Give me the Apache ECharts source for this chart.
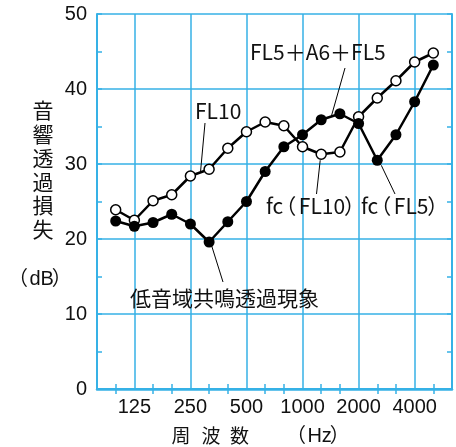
<!DOCTYPE html>
<html>
<head>
<meta charset="utf-8">
<script src="https://cdn.jsdelivr.net/npm/echarts@6/dist/echarts.min.js"></script>
<style>
  html, body { margin: 0; padding: 0; background: #fff; }
  #chart { width: 456px; height: 447px; }
</style>
</head>
<body>
<div id="chart"></div>
<script>
// One-third octave band centres (Hz); first and last only pad the frame
const bands = ['80', '100', '125', '160', '200', '250', '315', '400', '500', '630',
               '800', '1000', '1250', '1600', '2000', '2500', '3150', '4000', '5000', '6300'];
// Octave bands that carry a label and a vertical grid line
const tickLabels = ['125', '250', '500', '1000', '2000', '4000'];
// Sound transmission loss (dB), FL10 single glazing
const fl10 = [null, 23.9, 22.5, 25.1, 25.9, 28.4, 29.3, 32.1, 34.3, 35.6,
              35.1, 32.3, 31.3, 31.6, 36.3, 38.8, 41.1, 43.6, 44.8, null];
// Sound transmission loss (dB), FL5 + A6 + FL5 double glazing
const fl5a6 = [null, 22.4, 21.7, 22.2, 23.3, 22.0, 19.6, 22.3, 25.0, 29.0,
               32.3, 33.9, 35.9, 36.7, 35.4, 30.5, 33.9, 38.3, 43.2, null];
// Y axis range and step
const yMin = 0, yMax = 50, yStep = 10;

const CYAN = '#36b1e6';
const FONT_LATIN = '"Liberation Sans", "Noto Sans CJK JP", sans-serif';
const FONT_JP = '"Noto Sans CJK JP", sans-serif';
const INK = '#111';

const isMajor = (i) => tickLabels.indexOf(bands[i]) >= 0;
const isMinor = (i) => !isMajor(i) && i > 0 && i < bands.length - 1;

const chart = echarts.init(document.getElementById('chart'), null, { renderer: 'canvas' });

const baseX = {
  type: 'category',
  data: bands,
  boundaryGap: false,
  axisLine: { show: true, lineStyle: { color: CYAN, width: 2 } },
  axisTick: { show: true, inside: true, length: 5, interval: (i) => isMinor(i),
              lineStyle: { color: CYAN, width: 1.5 } },
};
const baseY = {
  type: 'value', min: yMin, max: yMax, interval: yStep,
  axisLine: { show: true, lineStyle: { color: CYAN, width: 2 } },
  axisTick: { show: true, inside: true, length: 5, lineStyle: { color: CYAN, width: 1.5 } },
  minorTick: { show: true, splitNumber: 2, length: 5, lineStyle: { color: CYAN, width: 1.5 } },
};

chart.setOption({
  animation: false,
  backgroundColor: '#fff',
  grid: { left: 97, right: 4, top: 14, bottom: 58 },
  xAxis: [
    Object.assign({}, baseX, {
      position: 'bottom',
      axisLabel: { show: true, interval: (i) => isMajor(i), fontSize: 20,
                   fontFamily: FONT_LATIN, color: INK, margin: 8 },
      splitLine: { show: true, interval: (i) => isMajor(i),
                   lineStyle: { color: CYAN, width: 1.5 } },
    }),
    Object.assign({}, baseX, {
      position: 'top',
      axisLine: { show: true, lineStyle: { color: CYAN, width: 2.5 } },
      axisLabel: { show: false },
      splitLine: { show: false },
    }),
  ],
  yAxis: [
    Object.assign({}, baseY, {
      position: 'left',
      axisLabel: { show: true, fontSize: 20, fontFamily: FONT_LATIN, color: INK, margin: 10 },
      splitLine: { show: true, lineStyle: { color: CYAN, width: 1.5 } },
    }),
    Object.assign({}, baseY, {
      position: 'right',
      axisLabel: { show: false },
      splitLine: { show: false },
    }),
  ],
  series: [
    {
      name: 'FL10', type: 'line', data: fl10, z: 2,
      symbol: 'circle', symbolSize: 10, showSymbol: true,
      lineStyle: { color: '#000', width: 2.5 },
      itemStyle: { color: '#fff', borderColor: '#000', borderWidth: 1.5 },
    },
    {
      name: 'FL5+A6+FL5', type: 'line', data: fl5a6, z: 3,
      symbol: 'circle', symbolSize: 11, showSymbol: true,
      lineStyle: { color: '#000', width: 2.5 },
      itemStyle: { color: '#000' },
    },
  ],
});

// ---- text helpers -------------------------------------------------------
const measureCtx = document.createElement('canvas').getContext('2d');
function textWidth(str, size, family) {
  measureCtx.font = size + 'px ' + family;
  return measureCtx.measureText(str).width;
}
function textEl(x, y, str, size, family, align) {
  return {
    type: 'text', x: x, y: y, silent: true,
    style: { text: str, fontSize: size, fontFamily: family, fill: INK,
             align: align || 'left', verticalAlign: 'middle' },
  };
}
// Lays out a string left to right, setting full-width brackets tight
// (bracket offsets and advances are in em)
function runText(x, y, str, size, family, br) {
  br = br || { openShift: -0.38, openAdv: 0.74, closeShift: -0.06, closeAdv: 0.5 };
  const els = [];
  let cx = x, buf = '';
  const flush = () => {
    if (!buf) return;
    els.push(textEl(cx, y, buf, size, family));
    cx += textWidth(buf, size, family);
    buf = '';
  };
  for (const ch of str) {
    if (ch === '（') {
      flush();
      els.push(textEl(cx + br.openShift * size, y, ch, size, family));
      cx += br.openAdv * size;
    } else if (ch === '）') {
      flush();
      els.push(textEl(cx + br.closeShift * size, y, ch, size, family));
      cx += br.closeAdv * size;
    } else {
      buf += ch;
    }
  }
  flush();
  return els;
}
function leader(x1, y1, x2, y2) {
  return { type: 'line', silent: true, z: 10,
           shape: { x1: x1, y1: y1, x2: x2, y2: y2 },
           style: { stroke: '#000', lineWidth: 1 } };
}
const px = (idx, arr) => chart.convertToPixel({ xAxisIndex: 0, yAxisIndex: 0 }, [idx, arr[idx]]);

// ---- annotations --------------------------------------------------------
const unitBr = { openShift: -0.45, openAdv: 0.62, closeShift: -0.1, closeAdv: 0.5 };
const els = [];
// vertical Y axis title
const yTitle = '音響透過損失';
[...yTitle].forEach((ch, k) => els.push(textEl(43, 110.5 + 23.7 * k, ch, 21, FONT_JP, 'center')));
els.push(...runText(17, 279, '（dB）', 20, FONT_LATIN, unitBr));
// X axis title
[['周', 181], ['波', 211], ['数', 239.5]].forEach(([ch, cx]) => els.push(textEl(cx, 436, ch, 19, FONT_JP, 'center')));
els.push(...runText(295, 436, '（Hz）', 20, FONT_LATIN, unitBr));

// series and feature callouts
els.push(...runText(250, 52, 'FL5＋A6＋FL5', 21, FONT_JP));
els.push(...runText(195, 111, 'FL10', 21, FONT_JP));
els.push(...runText(266, 206, 'fc（FL10）', 21, FONT_JP));
els.push(...runText(361, 206, 'fc（FL5）', 21, FONT_JP));
els.push(...runText(130, 298, '低音域共鳴透過現象', 21, FONT_JP));

let p = px(12, fl5a6); els.push(leader(345, 68, p[0] + 10, p[1] - 3));
p = px(5, fl10);       els.push(leader(205, 123, p[0] + 10, p[1] - 3));
p = px(12, fl10);      els.push(leader(316.5, 194, p[0] - 1, p[1] + 6));
p = px(15, fl5a6);     els.push(leader(395, 194, p[0] + 4, p[1] + 5));
p = px(6, fl5a6);      els.push(leader(223, 282, p[0] + 2, p[1] + 2));

chart.setOption({ graphic: { elements: els } });
</script>
</body>
</html>
